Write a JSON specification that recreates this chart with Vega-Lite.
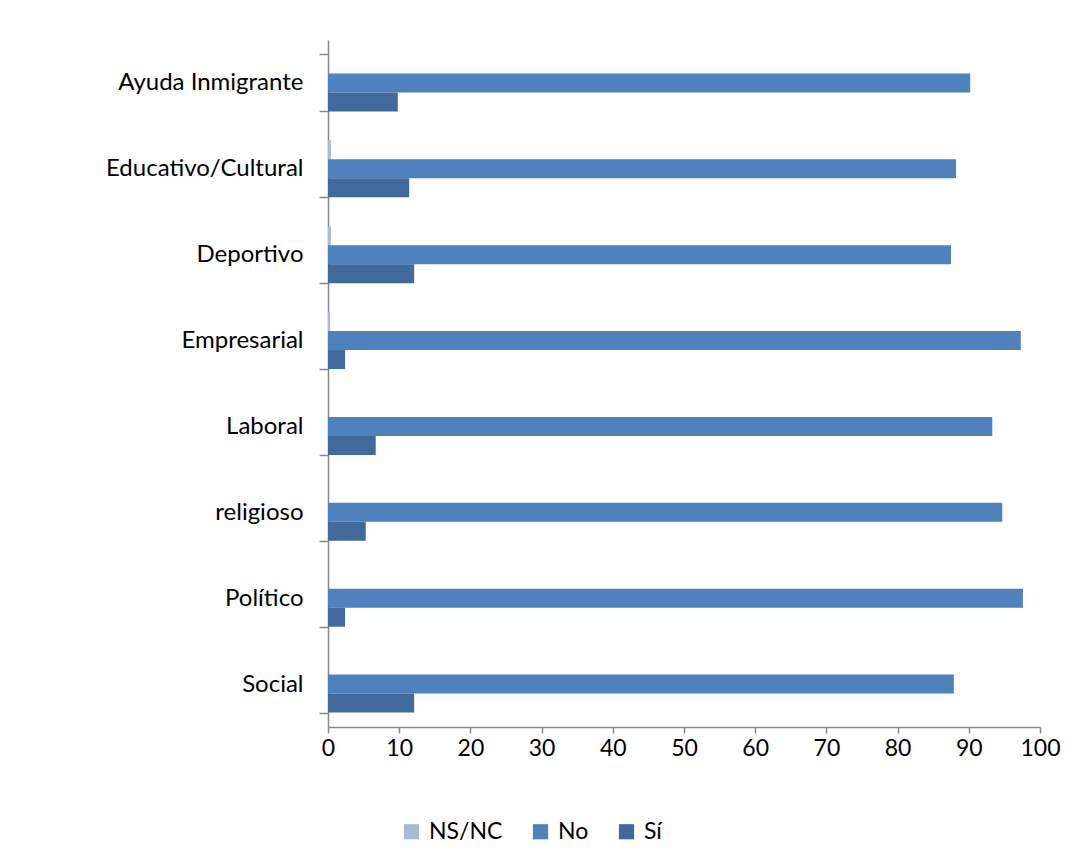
{
  "$schema": "https://vega.github.io/schema/vega-lite/v6.json",
  "width": 712,
  "height": 687,
  "autosize": {"type": "none"},
  "padding": {"left": 328, "top": 40, "right": 36, "bottom": 139},
  "background": "white",
  "data": {
    "values": [
      {"categoria": "Ayuda Inmigrante", "respuesta": "NS/NC", "valor": 0},
      {"categoria": "Ayuda Inmigrante", "respuesta": "No", "valor": 90.2},
      {"categoria": "Ayuda Inmigrante", "respuesta": "Sí", "valor": 9.8},
      {"categoria": "Educativo/Cultural", "respuesta": "NS/NC", "valor": 0.4},
      {"categoria": "Educativo/Cultural", "respuesta": "No", "valor": 88.2},
      {"categoria": "Educativo/Cultural", "respuesta": "Sí", "valor": 11.4},
      {"categoria": "Deportivo", "respuesta": "NS/NC", "valor": 0.4},
      {"categoria": "Deportivo", "respuesta": "No", "valor": 87.5},
      {"categoria": "Deportivo", "respuesta": "Sí", "valor": 12.1},
      {"categoria": "Empresarial", "respuesta": "NS/NC", "valor": 0.3},
      {"categoria": "Empresarial", "respuesta": "No", "valor": 97.3},
      {"categoria": "Empresarial", "respuesta": "Sí", "valor": 2.4},
      {"categoria": "Laboral", "respuesta": "NS/NC", "valor": 0},
      {"categoria": "Laboral", "respuesta": "No", "valor": 93.3},
      {"categoria": "Laboral", "respuesta": "Sí", "valor": 6.7},
      {"categoria": "religioso", "respuesta": "NS/NC", "valor": 0},
      {"categoria": "religioso", "respuesta": "No", "valor": 94.7},
      {"categoria": "religioso", "respuesta": "Sí", "valor": 5.3},
      {"categoria": "Político", "respuesta": "NS/NC", "valor": 0},
      {"categoria": "Político", "respuesta": "No", "valor": 97.6},
      {"categoria": "Político", "respuesta": "Sí", "valor": 2.4},
      {"categoria": "Social", "respuesta": "NS/NC", "valor": 0},
      {"categoria": "Social", "respuesta": "No", "valor": 87.9},
      {"categoria": "Social", "respuesta": "Sí", "valor": 12.1}
    ]
  },
  "mark": {"type": "bar", "cornerRadius": 0},
  "encoding": {
    "y": {
      "field": "categoria",
      "type": "nominal",
      "sort": ["Ayuda Inmigrante", "Educativo/Cultural", "Deportivo", "Empresarial", "Laboral", "religioso", "Político", "Social"],
      "scale": {"paddingInner": 0.336, "paddingOuter": 0.168},
      "axis": {
        "title": null,
        "tickBand": "extent",
        "tickSize": 9,
        "tickColor": "#888888",
        "domainColor": "#888888",
        "domainWidth": 1.5,
        "tickWidth": 1.5,
        "labelPadding": 16,
        "labelLimit": 320,
        "labelFont": "Lato",
        "labelFontSize": 24,
        "labelColor": "#000000"
      }
    },
    "yOffset": {
      "field": "respuesta",
      "type": "nominal",
      "sort": ["NS/NC", "No", "Sí"],
      "scale": {"paddingInner": 0, "paddingOuter": 0}
    },
    "x": {
      "field": "valor",
      "type": "quantitative",
      "scale": {"domain": [0, 100], "nice": false},
      "axis": {
        "title": null,
        "values": [0, 10, 20, 30, 40, 50, 60, 70, 80, 90, 100],
        "grid": false,
        "tickSize": 6,
        "tickColor": "#888888",
        "domainColor": "#888888",
        "domainWidth": 1.5,
        "tickWidth": 1.5,
        "labelPadding": 4,
        "labelFont": "Lato",
        "labelFontSize": 23,
        "labelColor": "#000000",
        "labelFlush": false
      }
    },
    "color": {
      "field": "respuesta",
      "type": "nominal",
      "sort": ["NS/NC", "No", "Sí"],
      "scale": {"domain": ["NS/NC", "No", "Sí"], "range": ["#a9b9d8", "#4f81bd", "#41699c"]},
      "legend": {
        "title": null,
        "orient": "none",
        "direction": "horizontal",
        "legendX": 72,
        "legendY": 780,
        "symbolType": "square",
        "symbolSize": 230,
        "symbolStrokeWidth": 0,
        "labelFont": "Lato",
        "labelFontSize": 23,
        "labelColor": "#000000",
        "columnPadding": 26,
        "labelOffset": 6
      }
    }
  },
  "config": {
    "view": {"stroke": null}
  }
}
